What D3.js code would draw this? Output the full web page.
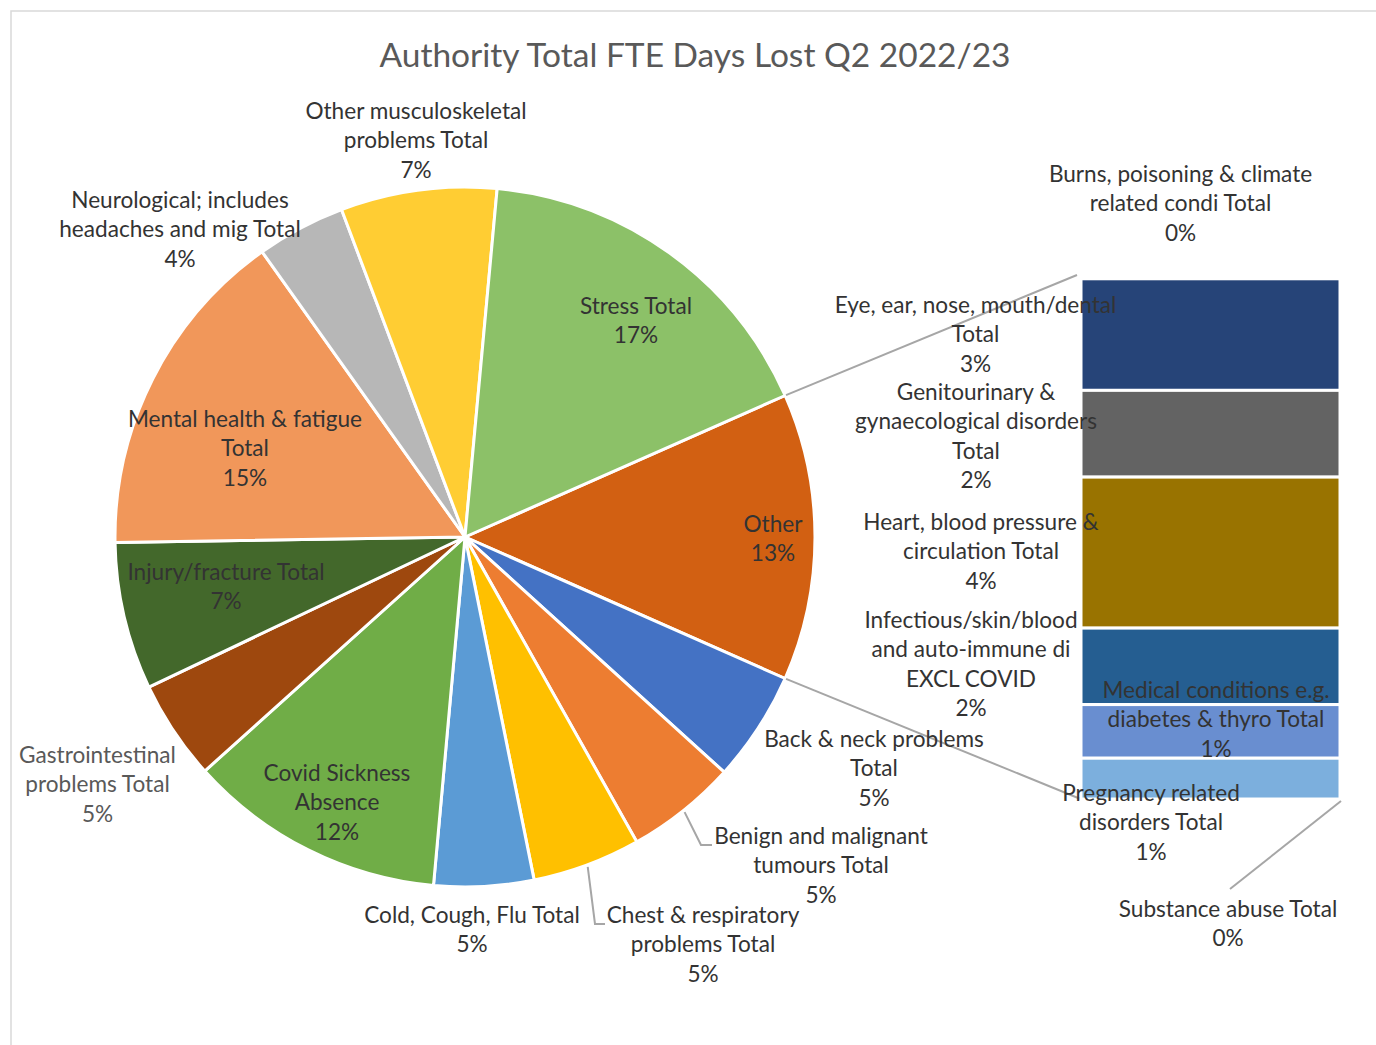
<!DOCTYPE html>
<html>
<head>
<meta charset="utf-8">
<script src="https://cdn.jsdelivr.net/npm/d3@7"></script>
<style>
  html, body { margin: 0; padding: 0; background: #ffffff; }
  svg { display: block; }
</style>
</head>
<body>
<div id="chart"></div>
<script>
// ---------- DATA ----------
const pieCategories = [
  "Back & neck problems Total",
  "Benign and malignant tumours Total",
  "Chest & respiratory problems Total",
  "Cold, Cough, Flu Total",
  "Covid Sickness Absence",
  "Gastrointestinal problems Total",
  "Injury/fracture Total",
  "Mental health & fatigue Total",
  "Neurological; includes headaches and mig Total",
  "Other musculoskeletal problems Total",
  "Stress Total"
];
const pieValues = [5.1, 5.1, 5.0, 4.6, 11.9, 4.6, 6.8, 15.4, 4.1, 7.2, 16.9];
const pieColors = ["#4472C4", "#ED7D31", "#FFC000", "#5B9BD5", "#70AD47", "#9E480E",
                   "#43682B", "#F1975A", "#B7B7B7", "#FFCD33", "#8CC168"];

const barCategories = [
  "Burns, poisoning & climate related condi Total",
  "Eye, ear, nose, mouth/dental Total",
  "Genitourinary & gynaecological disorders Total",
  "Heart, blood pressure & circulation Total",
  "Infectious/skin/blood and auto-immune di EXCL COVID",
  "Medical conditions e.g. diabetes & thyro Total",
  "Pregnancy related disorders Total",
  "Substance abuse Total"
];
const barValues = [0.02, 2.83, 2.2, 3.83, 1.94, 1.36, 1.04, 0.02];
const barColors = ["#A5A5A5", "#264478", "#636363", "#997300", "#255E91",
                   "#698ED0", "#7CAFDD", "#335AA1"];

const otherName = "Other";
const otherColor = "#D26012";
const titleText = "Authority Total FTE Days Lost Q2 2022/23";

// ---------- LAYOUT (label placement: centre x, first baseline y, words per line) ----------
const labelLayout = {
  "Other": {x: 773, y: 532, words: [1]},
  "Back & neck problems Total": {x: 874, y: 747, words: [4, 1]},
  "Benign and malignant tumours Total": {x: 821, y: 844, words: [3, 2], leader: [[701, 845], [712, 845]]},
  "Chest & respiratory problems Total": {x: 703, y: 923, words: [3, 2], leader: [[595, 924], [605, 924]]},
  "Cold, Cough, Flu Total": {x: 472, y: 923, words: [4]},
  "Covid Sickness Absence": {x: 337, y: 781, words: [2, 1]},
  "Gastrointestinal problems Total": {x: 97.5, y: 763, words: [1, 2], fill: "#595959"},
  "Injury/fracture Total": {x: 226, y: 580, words: [2]},
  "Mental health & fatigue Total": {x: 245, y: 427, words: [4, 1]},
  "Neurological; includes headaches and mig Total": {x: 180, y: 208, words: [2, 4]},
  "Other musculoskeletal problems Total": {x: 416, y: 119, words: [2, 2]},
  "Stress Total": {x: 636, y: 314, words: [2]},
  "Burns, poisoning & climate related condi Total": {x: 1180.5, y: 182, words: [4, 3]},
  "Eye, ear, nose, mouth/dental Total": {x: 975.5, y: 313, words: [4, 1]},
  "Genitourinary & gynaecological disorders Total": {x: 976, y: 400, words: [2, 2, 1]},
  "Heart, blood pressure & circulation Total": {x: 981, y: 530, words: [4, 2]},
  "Infectious/skin/blood and auto-immune di EXCL COVID": {x: 971, y: 628, words: [1, 3, 2]},
  "Medical conditions e.g. diabetes & thyro Total": {x: 1216, y: 698, words: [3, 4]},
  "Pregnancy related disorders Total": {x: 1151, y: 801, words: [2, 2]},
  "Substance abuse Total": {x: 1228, y: 917, words: [3]}
};

const W = 1376, H = 1045;
const FONT = "Lato, 'Open Sans', sans-serif";
const LABEL_SIZE = 22.6, LINE_H = 29.4;
const cx = 465, cy = 537, R = 350;

const svg = d3.select("#chart").append("svg").attr("width", W).attr("height", H);

// chart border
svg.append("rect").attr("x", 11).attr("y", 11).attr("width", 1500).attr("height", 1200)
  .attr("fill", "#fff").attr("stroke", "#d9d9d9").attr("stroke-width", 1.5);

// title
svg.append("text").attr("x", 695).attr("y", 67)
  .attr("text-anchor", "middle").attr("font-family", FONT).attr("font-size", 33.5)
  .attr("fill", "#595959").text(titleText);

// ---------- PIE ----------
const otherValue = d3.sum(barValues);
const total = d3.sum(pieValues) + otherValue;
const pieData = [{name: otherName, value: otherValue, color: otherColor}]
  .concat(pieCategories.map((c, i) => ({name: c, value: pieValues[i], color: pieColors[i]})));

const otherAngle = otherValue / total * 2 * Math.PI;
const start = Math.PI / 2 - otherAngle / 2;
const pie = d3.pie().value(d => d.value).sort(null).startAngle(start).endAngle(start + 2 * Math.PI);
const arcs = pie(pieData);
const arc = d3.arc().innerRadius(0).outerRadius(R);

const gPie = svg.append("g").attr("transform", `translate(${cx},${cy})`);
gPie.selectAll("path").data(arcs).enter().append("path")
  .attr("d", arc).attr("fill", d => d.data.color)
  .attr("stroke", "#ffffff").attr("stroke-width", 3).attr("stroke-linejoin", "round");

// ---------- BAR ----------
const barX0 = 1081, barX1 = 1340;
const yScale = d3.scaleLinear().domain([0, otherValue]).range([278, 800]);
const xScale = d3.scaleLinear().domain([0, 1]).range([barX0, barX1]);
const stacked = [];
let acc = 0;
barValues.forEach((v, i) => { stacked.push({name: barCategories[i], value: v, y0: acc, y1: acc + v, color: barColors[i]}); acc += v; });

// connector lines
const lineColor = "#a6a6a6";
const pt = (a, r) => [cx + r * Math.sin(a), cy - r * Math.cos(a)];
const otherArc = arcs[0];
const pTop = pt(otherArc.startAngle, R + 1);
const pBot = pt(otherArc.endAngle, R + 1);
svg.append("line").attr("x1", pTop[0]).attr("y1", pTop[1]).attr("x2", xScale(0) - 4).attr("y2", yScale(0) - 3)
  .attr("stroke", lineColor).attr("stroke-width", 2);
svg.append("line").attr("x1", pBot[0]).attr("y1", pBot[1]).attr("x2", xScale(0) + 2).attr("y2", yScale(otherValue))
  .attr("stroke", lineColor).attr("stroke-width", 2);

svg.append("g").selectAll("rect").data(stacked).enter().append("rect")
  .attr("x", xScale(0)).attr("width", xScale(1) - xScale(0))
  .attr("y", d => yScale(d.y0)).attr("height", d => Math.max(0, yScale(d.y1) - yScale(d.y0)))
  .attr("fill", d => d.color).attr("stroke", "#ffffff").attr("stroke-width", 3);

// ---------- LEADERS ----------
arcs.forEach(a => {
  const L = labelLayout[a.data.name];
  if (L && L.leader) {
    const mid = (a.startAngle + a.endAngle) / 2;
    const p0 = pt(mid, R + 2);
    const pts = [p0].concat(L.leader);
    svg.append("path").attr("d", d3.line()(pts)).attr("fill", "none")
      .attr("stroke", lineColor).attr("stroke-width", 2);
  }
});
// substance abuse leader from bar bottom-right corner
{
  const sub = stacked[stacked.length - 1];
  const L = labelLayout[sub.name];
  svg.append("line").attr("x1", xScale(1) + 1).attr("y1", yScale(sub.y1) + 1)
    .attr("x2", L.x + 2).attr("y2", L.y - 28)
    .attr("stroke", lineColor).attr("stroke-width", 2);
}

// ---------- LABELS ----------
function splitWords(name, counts) {
  const w = name.split(" ");
  const lines = []; let k = 0;
  counts.forEach(c => { lines.push(w.slice(k, k + c).join(" ")); k += c; });
  return lines;
}
function drawLabel(name, value) {
  const L = labelLayout[name];
  const pct = Math.round(value / total * 100) + "%";
  const lines = splitWords(name, L.words).concat([pct]);
  const t = svg.append("text").attr("font-family", FONT).attr("font-size", LABEL_SIZE)
    .attr("fill", L.fill || "#333333").attr("text-anchor", "middle");
  lines.forEach((ln, i) => {
    t.append("tspan").attr("x", L.x).attr("y", L.y + i * LINE_H).text(ln);
  });
}
arcs.forEach(a => drawLabel(a.data.name, a.data.value));
stacked.forEach(s => drawLabel(s.name, s.value));
</script>
</body>
</html>
